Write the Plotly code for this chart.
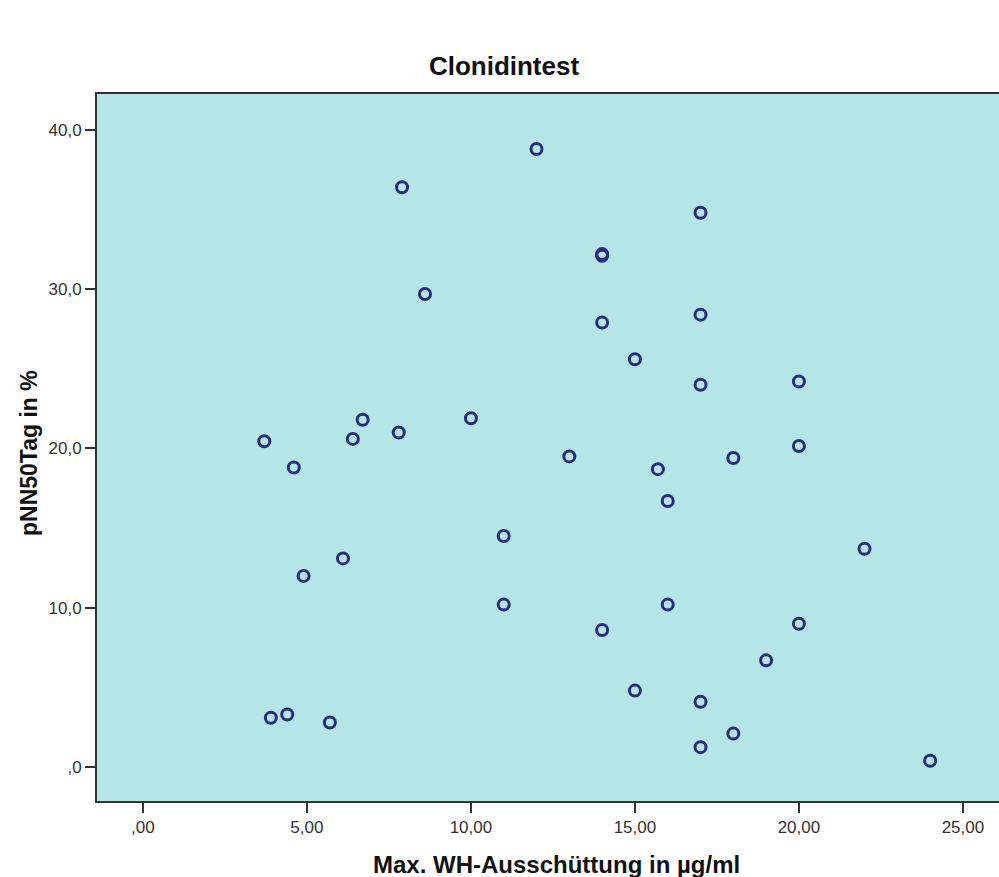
import plotly.graph_objects as go

# Data: Max. WH-Ausschüttung (µg/ml) vs pNN50Tag (%)
wh_release = [12.0, 7.9, 17.0, 14.0, 14.0, 8.6, 17.0, 14.0, 15.0, 17.0,
              20.0, 6.7, 10.0, 7.8, 6.4, 3.7, 20.0, 13.0, 18.0, 4.6,
              15.7, 16.0, 11.0, 22.0, 6.1, 4.9, 11.0, 16.0, 20.0, 14.0,
              19.0, 15.0, 17.0, 3.9, 4.4, 5.7, 18.0, 17.0, 24.0]
pnn50_day = [38.8, 36.4, 34.8, 32.2, 32.1, 29.7, 28.4, 27.9, 25.6, 24.0,
             24.2, 21.8, 21.9, 21.0, 20.6, 20.45, 20.15, 19.5, 19.4, 18.8,
             18.7, 16.7, 14.5, 13.7, 13.1, 12.0, 10.2, 10.2, 9.0, 8.6,
             6.7, 4.8, 4.1, 3.1, 3.3, 2.8, 2.1, 1.25, 0.4]

x_tickvals = [0, 5, 10, 15, 20, 25]
x_ticktext = [",00", "5,00", "10,00", "15,00", "20,00", "25,00"]
y_tickvals = [0, 10, 20, 30, 40]
y_ticktext = [",0", "10,0", "20,0", "30,0", "40,0"]

W, H = 999, 877
L, R, T, B = 97, 0, 94, 76
PW, PH = W - L - R, H - T - B

fig = go.Figure()
fig.add_trace(go.Scatter(
    x=wh_release, y=pnn50_day, mode="markers",
    marker=dict(symbol="circle-open", size=11, color="#2A2A7E",
                line=dict(width=3, color="#2A2A7E")),
    showlegend=False, hoverinfo="x+y",
))

font = "Liberation Sans, Arial, sans-serif"
fig.update_layout(
    width=W, height=H,
    margin=dict(l=L, r=R, t=T, b=B, pad=0),
    paper_bgcolor="white",
    plot_bgcolor="#B4E6E8",
    font=dict(family=font, color="#222222"),
    title=dict(text="<b>Clonidintest</b>", xref="container", yref="container",
               x=504 / W, y=1 - 66 / H, xanchor="center", yanchor="middle",
               font=dict(size=26, color="#111111", family=font)),
    xaxis=dict(range=[-1.40, 26.1], tickvals=x_tickvals, ticktext=x_ticktext,
               showgrid=False, zeroline=False, showline=True, linecolor="#333333",
               linewidth=2, mirror=True, ticks="outside", ticklen=10, tickwidth=2,
               tickcolor="#333333", tickfont=dict(size=17, color="#333333"),
               fixedrange=True),
    yaxis=dict(range=[-2.13, 42.25], tickvals=y_tickvals, ticktext=y_ticktext,
               showgrid=False, zeroline=False, showline=True, linecolor="#333333",
               linewidth=2, ticks="outside", ticklen=10, tickwidth=2,
               tickcolor="#333333", tickfont=dict(size=17, color="#333333"),
               fixedrange=True),
    annotations=[
        dict(text="<b>Max. WH-Ausschüttung in µg/ml</b>", xref="paper", yref="paper",
             x=(556 - L) / PW, y=-(864 - (H - B)) / PH,
             xanchor="center", yanchor="middle", showarrow=False,
             font=dict(size=24, color="#111111", family=font)),
        dict(text="<b>pNN50Tag in %</b>", xref="paper", yref="paper",
             x=-(L - 29) / PW, y=(H - B - 453) / PH,
             xanchor="center", yanchor="middle", textangle=-90, showarrow=False,
             font=dict(size=23, color="#111111", family=font)),
    ],
)

fig.write_html(
    "out.html",
    config={"displayModeBar": False},
    post_script="document.body.style.margin='0';document.body.style.overflow='hidden';",
)
